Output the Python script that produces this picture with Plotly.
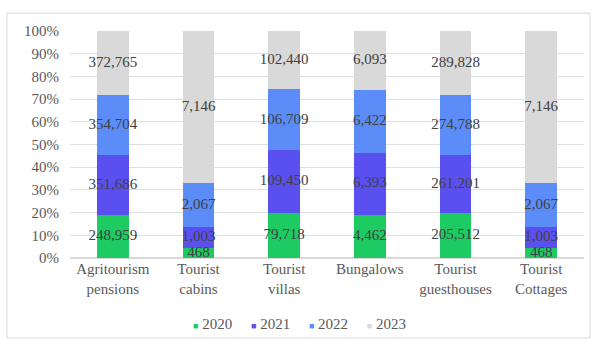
import plotly.graph_objects as go

categories = ["Agritourism<br>pensions", "Tourist<br>cabins", "Tourist<br>villas",
              "Bungalows", "Tourist<br>guesthouses", "Tourist<br>Cottages"]
years = ["2020", "2021", "2022", "2023"]
v2020 = [248959, 468, 79718, 4462, 205512, 468]
v2021 = [351686, 1003, 109450, 6393, 261201, 1003]
v2022 = [354704, 2067, 106709, 6422, 274788, 2067]
v2023 = [372765, 7146, 102440, 6093, 289828, 7146]
series = [v2020, v2021, v2022, v2023]
colors = ["#1ecb63", "#5a50f0", "#5b8cf8", "#d9d9d9"]

FONT = "Liberation Serif"
TXT = "#595959"
FS = 15

fig = go.Figure()
for name, vals, col in zip(years, series, colors):
    fig.add_trace(go.Bar(x=categories, y=vals, name=name, marker_color=col,
                         marker_line_width=0, textposition="none", showlegend=False))

# value labels centred in each segment (positions in percent of the column total)
totals = [sum(s[i] for s in series) for i in range(len(categories))]
lx, ly, lt = [], [], []
for i, cat in enumerate(categories):
    cum = 0.0
    for vals in series:
        share = vals[i] / totals[i] * 100
        lx.append(cat)
        ly.append(cum + share / 2)
        lt.append(f"{vals[i]:,}")
        cum += share
fig.add_trace(go.Scatter(x=lx, y=ly, text=lt, mode="text", showlegend=False,
                         textfont=dict(family=FONT, size=FS, color="#404040"),
                         hoverinfo="skip", cliponaxis=False))

# compact legend line: small coloured squares followed by the year
legend_text = "&nbsp;&nbsp;&nbsp;&nbsp;&nbsp;".join(
    f"<span style='color:{col};font-size:9px'>■</span> {name}"
    for name, col in zip(years, colors))
fig.add_annotation(text=legend_text, xref="paper", yref="paper",
                   x=0.447, y=-0.29, xanchor="center", yanchor="middle",
                   showarrow=False, font=dict(family=FONT, size=FS, color=TXT))

fig.update_layout(
    barmode="stack", barnorm="percent", bargap=0.63,
    width=598, height=345,
    margin=dict(l=70, r=14, t=31, b=87),
    paper_bgcolor="white", plot_bgcolor="white",
    font=dict(family=FONT, size=FS, color=TXT),
    showlegend=False,
)
fig.update_yaxes(range=[0, 100], dtick=10, ticksuffix="%", showgrid=True,
                 gridcolor="#e0e0e0", gridwidth=1, zeroline=True, zerolinecolor="#d9d9d9",
                 tickfont=dict(family=FONT, size=FS, color=TXT), ticklen=0,
                 ticks="", ticklabelstandoff=10)
fig.update_xaxes(showgrid=False, showline=False,
                 tickfont=dict(family=FONT, size=FS, color=TXT))

# outer chart frame
fig.add_shape(type="rect", xref="paper", yref="paper",
              x0=-0.1226, x1=1.0117, y0=-0.352, y1=1.079,
              line=dict(color="#d9d9d9", width=1), layer="below")

fig.write_html("out.html")
